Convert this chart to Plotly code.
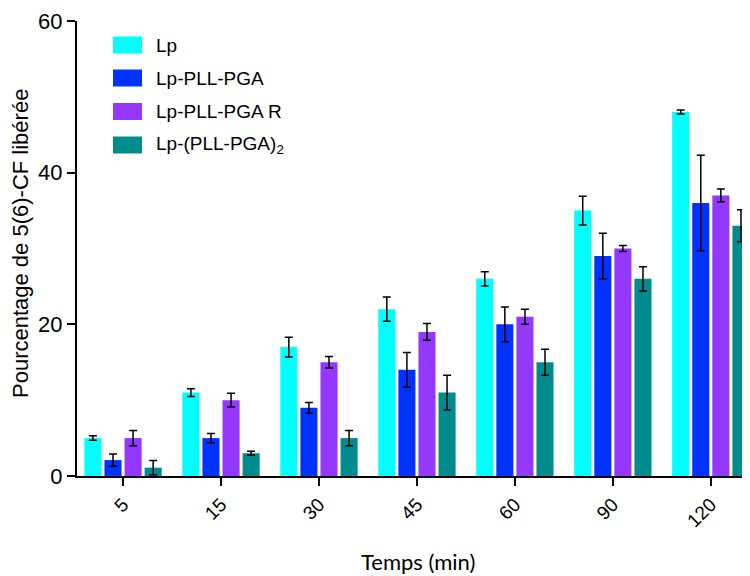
import plotly.graph_objects as go

categories = ["5", "15", "30", "45", "60", "90", "120"]
series_names = ["Lp", "Lp-PLL-PGA", "Lp-PLL-PGA R", "Lp-(PLL-PGA)<sub>2</sub>"]
lp = [5.0, 11.0, 17.0, 22.0, 26.0, 35.0, 48.0]
lp_err = [0.3, 0.5, 1.3, 1.6, 0.95, 1.9, 0.25]
lp_pll_pga = [2.1, 5.0, 9.0, 14.0, 20.0, 29.0, 36.0]
lp_pll_pga_err = [0.8, 0.6, 0.7, 2.3, 2.3, 3.0, 6.3]
lp_pll_pga_r = [5.0, 10.0, 15.0, 19.0, 21.0, 30.0, 37.0]
lp_pll_pga_r_err = [1.0, 0.9, 0.75, 1.1, 1.0, 0.4, 0.85]
lp_pll_pga2 = [1.1, 3.0, 5.0, 11.0, 15.0, 26.0, 33.0]
lp_pll_pga2_err = [0.95, 0.25, 1.0, 2.3, 1.7, 1.6, 2.1]

colors = ["#00FFFF", "#0033FF", "#9538FF", "#008C8C"]
values = [lp, lp_pll_pga, lp_pll_pga_r, lp_pll_pga2]
errors = [lp_err, lp_pll_pga_err, lp_pll_pga_r_err, lp_pll_pga2_err]

fig = go.Figure()
for name, vals, errs, col in zip(series_names, values, errors, colors):
    fig.add_trace(go.Bar(
        x=categories, y=vals, name=name,
        marker=dict(color=col, line=dict(width=0)),
        error_y=dict(type="data", array=errs, visible=True,
                     color="black", thickness=1.5, width=4),
        showlegend=False,
    ))

font_main = "Liberation Sans, Arial, sans-serif"

# page pixel -> paper coordinates (plot area: x 77..750, y 21..476 on the page)
def px(x):
    return (x - 77) / 673

def py(y):
    return (476 - y) / 455

leg_y = [45, 78, 111.5, 145]
shapes = []
annotations = []
for i, (name, col) in enumerate(zip(series_names, colors)):
    yc = leg_y[i]
    shapes.append(dict(type="rect", xref="paper", yref="paper",
                       x0=px(113), x1=px(142), y0=py(yc + 8.5), y1=py(yc - 8.5),
                       fillcolor=col, line=dict(width=0)))
    annotations.append(dict(xref="paper", yref="paper", x=px(154), y=py(yc),
                            xanchor="left", yanchor="middle", showarrow=False,
                            text=name, font=dict(family=font_main, size=19, color="black")))

annotations.append(dict(xref="paper", yref="paper", x=px(418), y=py(561),
                        xanchor="center", yanchor="middle", showarrow=False,
                        text="Temps (min)", font=dict(family="Lato, Open Sans, sans-serif", size=22, color="black")))
annotations.append(dict(xref="paper", yref="paper", x=px(20), y=py(244),
                        xanchor="center", yanchor="middle", showarrow=False, textangle=-90,
                        text="Pourcentage de 5(6)-CF libérée",
                        font=dict(family=font_main, size=22, color="black")))

fig.update_layout(
    width=742, height=568,
    margin=dict(l=69, r=0, t=13, b=100, autoexpand=False),
    paper_bgcolor="white", plot_bgcolor="white",
    barmode="group", bargap=0.18, bargroupgap=0.15,
    shapes=shapes, annotations=annotations,
    font=dict(family=font_main, color="black"),
)
fig.update_xaxes(
    type="category", range=[-0.47, 6.4],
    showline=True, linecolor="black", linewidth=2,
    ticks="outside", ticklen=8, tickwidth=2, tickcolor="black",
    tickangle=-45, tickfont=dict(family=font_main, size=19, color="black"),
    showgrid=False, zeroline=False,
)
fig.update_yaxes(
    range=[0, 60], tickvals=[0, 20, 40, 60],
    showline=True, linecolor="black", linewidth=2,
    ticks="outside", ticklen=8, tickwidth=2, tickcolor="black",
    tickfont=dict(family=font_main, size=22, color="black"),
    showgrid=False, zeroline=False,
)

fig.write_html("out.html")
